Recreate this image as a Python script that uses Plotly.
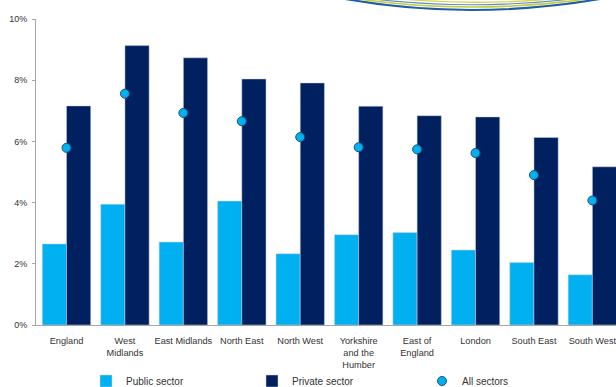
import plotly.graph_objects as go

# Regional rates by sector (%)
regions = [
    "England", "West<br>Midlands", "East Midlands", "North East", "North West",
    "Yorkshire<br>and the<br>Humber", "East of<br>England", "London", "South East", "South West",
]
public_sector = [2.65, 3.95, 2.71, 4.05, 2.33, 2.95, 3.02, 2.45, 2.04, 1.64]
private_sector = [7.16, 9.13, 8.73, 8.04, 7.91, 7.15, 6.84, 6.80, 6.13, 5.17]
all_sectors = [5.79, 7.56, 6.93, 6.66, 6.14, 5.81, 5.74, 5.62, 4.90, 4.07]

PUBLIC_COLOUR = "#00B0F0"
PRIVATE_COLOUR = "#002060"
DOT_EDGE = "#1F4E79"
TEXT_COLOUR = "#333333"
AXIS_COLOUR = "#A6A6A6"
FONT = "Liberation Sans, Arial, sans-serif"

fig = go.Figure()

fig.add_trace(go.Bar(
    x=regions, y=public_sector, name="Public sector", legend="legend",
    marker=dict(color=PUBLIC_COLOUR, line=dict(color="#C9D6E6", width=0.5)),
))
fig.add_trace(go.Bar(
    x=regions, y=private_sector, name="Private sector", legend="legend2",
    marker=dict(color=PRIVATE_COLOUR, line=dict(color="#C9D6E6", width=0.5)),
))
fig.add_trace(go.Scatter(
    x=regions, y=all_sectors, name="All sectors", mode="markers", legend="legend3",
    marker=dict(color=PUBLIC_COLOUR, size=9, line=dict(color=DOT_EDGE, width=1)),
))

# Decorative banner swoosh across the top edge (paper coordinates)
W0, W1, H0, H1 = 36, 616, 325, 19


def px(x, y):
    return f"{(x - W0) / (W1 - W0):.4f},{(H0 - y) / (H0 - H1):.4f}"


swoosh = [
    ((345, -1), (470, 21), (600, -1), "#1B5FA6", 2.2),
    ((352, -2), (470, 16), (594, -2), "#C9C93A", 1.6),
    ((365, -2), (475, 12), (588, -3), "#5E8FC8", 1.2),
    ((380, -3), (480, 8), (582, -4), "#D4D65A", 1.4),
]
shapes = []
for (a, c, b, col, w) in swoosh:
    shapes.append(dict(
        type="path", xref="paper", yref="paper",
        path=f"M{px(*a)} Q{px(*c)} {px(*b)}",
        line=dict(color=col, width=w), layer="above",
    ))


def legend_at(x_px):
    return dict(
        orientation="h", xref="container", yref="container",
        x=x_px / 616, y=1 - 381 / 387, xanchor="left", yanchor="middle",
        font=dict(family=FONT, size=10, color=TEXT_COLOUR),
        itemclick=False, bgcolor="rgba(0,0,0,0)",
    )


fig.update_layout(
    width=616, height=387,
    margin=dict(l=36, r=0, t=19, b=62),
    paper_bgcolor="white", plot_bgcolor="white",
    barmode="group", bargap=0.171, bargroupgap=0,
    font=dict(family=FONT, color=TEXT_COLOUR, size=10),
    showlegend=True,
    legend=legend_at(86),
    legend2=legend_at(252),
    legend3=legend_at(422),
    shapes=shapes,
)

fig.update_xaxes(
    type="category", range=[-0.522, 9.404], automargin=False,
    showline=True, linecolor=AXIS_COLOUR, linewidth=1,
    ticks="", showgrid=False, zeroline=False, ticklabelstandoff=7,
    tickfont=dict(size=9.2, color=TEXT_COLOUR),
)
fig.update_yaxes(
    range=[0, 10], dtick=2, ticksuffix="%", automargin=False,
    showline=True, linecolor=AXIS_COLOUR, linewidth=1,
    ticks="outside", ticklen=3, tickcolor=AXIS_COLOUR,
    showgrid=False, zeroline=False, ticklabelstandoff=3,
    tickfont=dict(family="Liberation Sans Narrow, Arial Narrow, sans-serif", size=9, color=TEXT_COLOUR),
)

fig.write_html("out.html")
